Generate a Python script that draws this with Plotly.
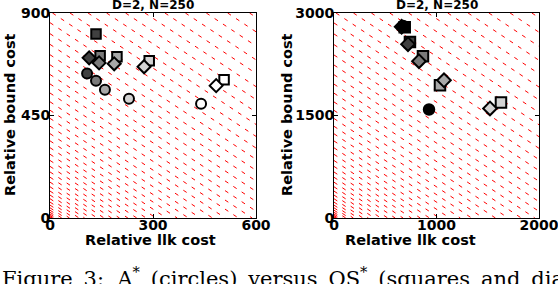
import plotly.graph_objects as go

W, H = 558, 284

# ---------------- data ----------------
shades = ["#404040", "#7a7a7a", "#a8a8a8", "#d3d3d3", "#ffffff"]

# left panel
L_sq_x = [134, 146, 195, 289, 507]
L_sq_y = [808, 712, 708, 690, 607]
L_di_x = [114, 143, 187, 274, 484]
L_di_y = [703, 681, 677, 664, 581]
L_ci_x = [108, 134, 160, 230, 440]
L_ci_y = [634, 603, 563, 524, 502]

# right panel
shades_r = ["#000000", "#404040", "#7a7a7a", "#a8a8a8", "#d3d3d3"]
R_sq_x = [690, 741, 868, 1034, 1629]
R_sq_y = [2790, 2574, 2368, 1941, 1691]
R_di_x = [660, 722, 829, 1073, 1522]
R_di_y = [2800, 2544, 2294, 2015, 1603]
R_ci_x = [675, 927]
R_ci_y = [2810, 1588]
R_ci_c = ["#000000", "#000000"]

title_txt = "D=2, N=250"
xlab = "Relative llk cost"
ylab = "Relative bound cost"
L_xticks = [0, 300, 600]
L_yticks = [0, 450, 900]
R_xticks = [0, 1000, 2000]
R_yticks = [0, 1500, 3000]
L_range = (600, 900)
R_range = (2000, 3000)

# iso-cost guide lines (x + y = c)
iso_k = list(range(1, 48))
L_iso = [0.7 * k * k for k in iso_k]
R_iso = [2.33 * k * k for k in iso_k]

sp = " &#8201;"
caption = sp.join(["Figure", "3:&nbsp;&nbsp;A<sup>*</sup>", "(circles)", "versus",
                   "OS<sup>*</sup>", "(squares", "and", "dia"])


def iso_xy(levels, xmax, ymax):
    xs, ys = [], []
    for c in levels:
        x0 = max(0.0, c - ymax)
        x1 = min(c, xmax)
        if x1 <= x0:
            continue
        xs += [x0, x1, None]
        ys += [c - x0, c - x1, None]
    return xs, ys


fig = go.Figure()

line_style = dict(color="red", width=1, dash="4px,6px")
for levels, rng, ax in [(L_iso, L_range, ""), (R_iso, R_range, "2")]:
    xs, ys = iso_xy(levels, *rng)
    fig.add_trace(go.Scatter(x=xs, y=ys, mode="lines", line=line_style,
                             xaxis="x" + ax, yaxis="y" + ax, hoverinfo="skip",
                             showlegend=False))

mk_line = dict(color="black", width=2)

def add_markers(x, y, colors, symbol, size, ax):
    fig.add_trace(go.Scatter(
        x=x, y=y, mode="markers", xaxis="x" + ax, yaxis="y" + ax,
        marker=dict(symbol=symbol, size=size, color=colors, line=mk_line),
        showlegend=False, cliponaxis=False))

add_markers(L_sq_x, L_sq_y, shades, "square", 9.5, "")
add_markers(L_di_x, L_di_y, shades, "diamond", 10, "")
add_markers(L_ci_x, L_ci_y, shades, "circle", 10, "")

add_markers(R_sq_x, R_sq_y, shades_r, "square", 10.5, "2")
add_markers(R_di_x, R_di_y, shades_r, "diamond", 10.5, "2")
add_markers(R_ci_x, R_ci_y, R_ci_c, "circle", 10.5, "2")

tickfont = dict(family="DejaVu Sans", size=14, color="black", weight="bold")
axis_common = dict(showline=True, mirror="ticks", linecolor="black", linewidth=1,
                   ticks="inside", ticklen=4, tickcolor="black", tickwidth=1,
                   showgrid=False, zeroline=False, tickfont=tickfont,
                   automargin=False, ticklabeloverflow="allow")
xaxis_common = dict(axis_common, ticklabelstandoff=-6)
yaxis_common = dict(axis_common, ticklabelstandoff=-4)

def px_x(p):
    return p / W

def px_y(p):
    return 1 - p / H

top, bot = 13, 218
fig.update_layout(
    width=W, height=H,
    margin=dict(l=0, r=0, t=0, b=0, pad=0, autoexpand=False),
    paper_bgcolor="white", plot_bgcolor="white",
    xaxis=dict(domain=[px_x(50), px_x(256)], range=[0, L_range[0]],
               tickvals=L_xticks, anchor="y", **xaxis_common),
    yaxis=dict(domain=[px_y(bot), px_y(top)], range=[0, L_range[1]],
               tickvals=L_yticks, anchor="x", **yaxis_common),
    xaxis2=dict(domain=[px_x(334), px_x(539)], range=[0, R_range[0]],
                tickvals=R_xticks, anchor="y2", **xaxis_common),
    yaxis2=dict(domain=[px_y(bot), px_y(top)], range=[0, R_range[1]],
                tickvals=R_yticks, anchor="x2", **yaxis_common),
)

lab_font = dict(family="DejaVu Sans", size=14.5, color="black", weight="bold")
ann = []
for cx in (153, 437):
    ann.append(dict(text=title_txt, x=px_x(cx), y=px_y(14), xref="paper", yref="paper",
                    xanchor="center", yanchor="bottom", showarrow=False,
                    font=dict(family="DejaVu Sans", size=12, color="black", weight="bold")))
for cx in (150, 410):
    ann.append(dict(text=xlab, x=px_x(cx), y=px_y(240), xref="paper", yref="paper",
                    xanchor="center", yanchor="middle", showarrow=False, font=lab_font))
for cx in (10, 287):
    ann.append(dict(text=ylab, x=px_x(cx), y=px_y(115), xref="paper", yref="paper",
                    xanchor="center", yanchor="middle", showarrow=False, textangle=-90,
                    font=lab_font))
ann.append(dict(text=caption, x=0, y=px_y(261), xref="paper", yref="paper",
                xanchor="left", yanchor="top", showarrow=False, align="left",
                font=dict(family="DejaVu Serif", size=21, color="black")))
fig.update_layout(annotations=ann)

fig.write_html("out.html", config={"displayModeBar": False},
               post_script="document.body.style.margin='0px';")
